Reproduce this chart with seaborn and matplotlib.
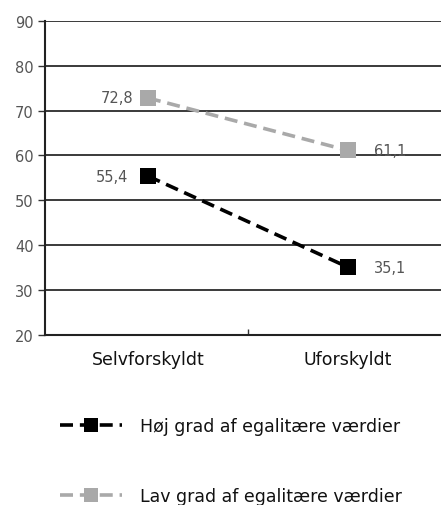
import matplotlib
matplotlib.use("Agg")
import matplotlib.pyplot as plt
import seaborn as sns
import pandas as pd

# data
categories = ["Selvforskyldt", "Uforskyldt"]
groups = ["Høj grad af egalitære værdier", "Lav grad af egalitære værdier"]
hoj_values = [55.4, 35.1]
lav_values = [72.8, 61.1]
y_ticks = [20, 30, 40, 50, 60, 70, 80, 90]

df = pd.DataFrame({
    "pos": [0, 1, 0, 1],
    "value": hoj_values + lav_values,
    "group": [groups[0]] * 2 + [groups[1]] * 2,
})

sns.set_style("white")
plt.rcParams["font.family"] = ["DejaVu Sans"]

fig = plt.figure(figsize=(4.41, 5.06), dpi=100)
ax = fig.add_axes([0.102, 0.336, 0.898, 0.621])

colors = ["#000000", "#a9a9a9"]
sns.lineplot(data=df, x="pos", y="value", hue="group", style="group",
             palette=colors, markers=["s", "s"], dashes=[(3.6, 1.9), (3.6, 1.9)],
             linewidth=2.6, markersize=12, markeredgewidth=0, ax=ax)

# grid
for y in y_ticks:
    ax.axhline(y, color="#3a3a3a", linewidth=1.4, zorder=0)

ax.set_ylim(20, 90)
ax.set_xlim(-0.515, 1.465)
ax.set_yticks(y_ticks)
ax.set_yticklabels([str(v) for v in y_ticks], color="#555555", fontsize=10.5)
ax.set_xticks([0.5])
ax.set_xticklabels([""])
ax.tick_params(axis="y", length=5, width=1, color="#333333", pad=3, left=True)
ax.tick_params(axis="x", length=4, width=1, color="#333333", direction="in", bottom=True)
for i, c in enumerate(categories):
    ax.text(i, 16.6, c, ha="center", va="top", fontsize=12.5, color="#111111")

for s in ["top", "right"]:
    ax.spines[s].set_visible(False)
for s in ["left", "bottom"]:
    ax.spines[s].set_color("#222222")
    ax.spines[s].set_linewidth(1.5)

ax.set_xlabel("")
ax.set_ylabel("")

# value labels
fmt = lambda v: f"{v:.1f}".replace(".", ",")
ax.text(-0.075, lav_values[0], fmt(lav_values[0]), ha="right", va="center", fontsize=10.5, color="#555555")
ax.text(-0.1, hoj_values[0], fmt(hoj_values[0]), ha="right", va="center", fontsize=10.5, color="#555555")
ax.text(1.13, lav_values[1], fmt(lav_values[1]), ha="left", va="center", fontsize=10.5, color="#555555")
ax.text(1.13, hoj_values[1], fmt(hoj_values[1]), ha="left", va="center", fontsize=10.5, color="#555555")

# legend
handles, labels = ax.get_legend_handles_labels()
ax.legend(handles, labels, loc="upper left", bbox_to_anchor=(0.1, 0.205),
          bbox_transform=fig.transFigure, frameon=False, fontsize=12.5,
          labelspacing=3.0, handlelength=3.6, handletextpad=1.0,
          markerscale=0.8, labelcolor="#111111")

fig.savefig("out.png", dpi=100)
